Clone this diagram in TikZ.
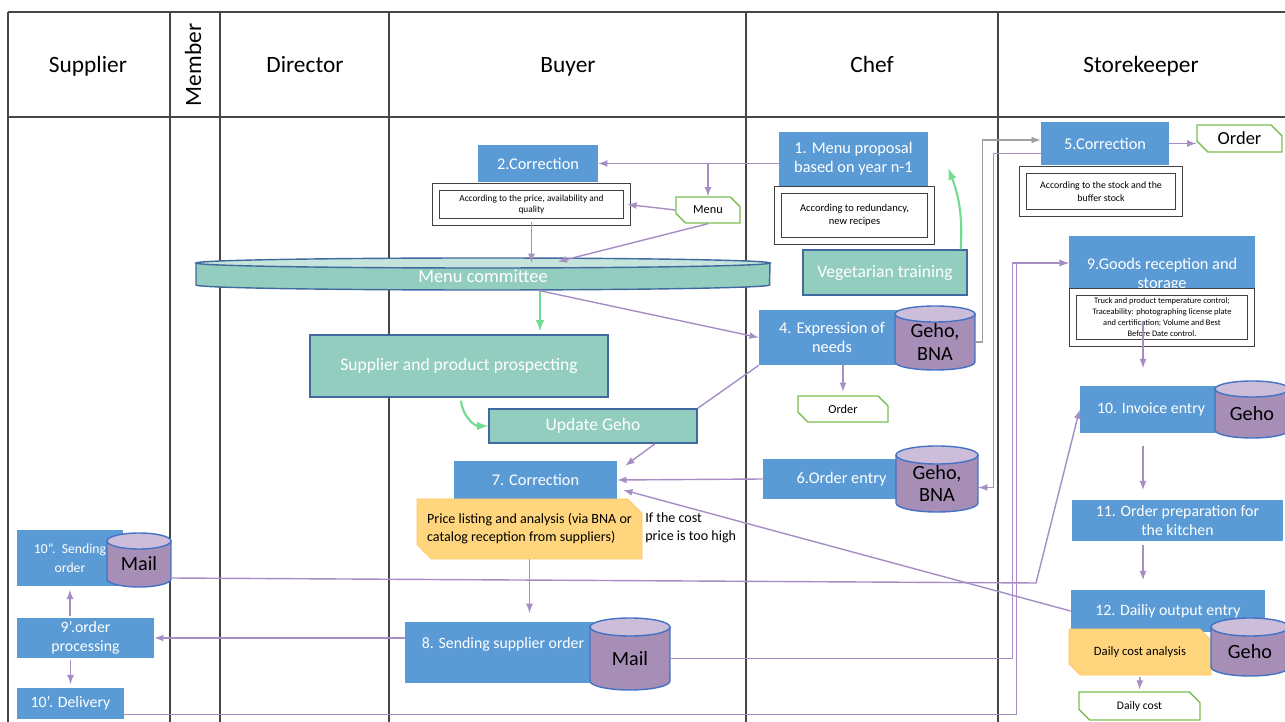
\documentclass[tikz,border=0pt]{standalone}
\usepackage{fontspec}
\setmainfont{Carlito}
\usetikzlibrary{calc,shapes.misc}
\definecolor{procblue}{RGB}{91,155,213}
\definecolor{ideateal}{RGB}{147,205,191}
\definecolor{idealight}{RGB}{196,228,220}
\definecolor{tealedge}{RGB}{65,105,160}
\definecolor{dbpurple}{RGB}{166,142,182}
\definecolor{dblight}{RGB}{204,190,218}
\definecolor{dbedge}{RGB}{68,114,196}
\definecolor{flowpurple}{RGB}{166,142,196}
\definecolor{flowgreen}{RGB}{112,222,142}
\definecolor{docgreen}{RGB}{122,190,80}
\definecolor{memoyellow}{RGB}{255,214,125}
\definecolor{laneline}{RGB}{70,70,70}
\newcommand{\boxat}[7]{
	\node[#1, minimum width={(#5-#3)*0.02cm}, minimum height={(#6-#4)*0.02cm}]
		(#2) at ({(#3+#5)/2},{(#4+#6)/2}) {#7};
}
\newcommand{\storeat}[8]{
	\path[#1 body] (#3,{#4+#7}) -- (#3,{#6-#7})
		arc[start angle=180, end angle=360, x radius={(#5-#3)*0.01cm}, y radius={#7*0.02cm}]
		-- (#5,{#4+#7}) -- cycle;
	\path[#1 top] ({(#3+#5)/2},{#4+#7}) ellipse [x radius={(#5-#3)*0.01cm}, y radius={#7*0.02cm}];
	\node[#1 text, minimum width={(#5-#3)*0.02cm}, minimum height={(#6-#4-#7)*0.02cm}]
		(#2) at ({(#3+#5)/2},{(#4+#6+#7)/2}) {#8};
}

\begin{document}
\begin{tikzpicture}[x=0.02cm,y=-0.02cm,
	lane/.style={draw=laneline, line width=0.8pt},
	lanehead/.style={anchor=base, font=\fontsize{13.3}{15}\selectfont},
	proc/.style={fill=procblue, text=white, inner sep=0pt, align=center, font=\fontsize{9.3}{10.8}\selectfont},
	idea/.style={fill=ideateal, draw=tealedge, line width=0.8pt, text=white, inner sep=0pt, font=\fontsize{10}{12}\selectfont},
	note/.style={draw=black!75, double=white, double distance=3.2pt, line width=0.5pt, fill=white, inner sep=0pt, align=center},
	doc/.style={chamfered rectangle, chamfered rectangle corners={north east,south west}, chamfered rectangle xsep=3pt, draw=docgreen, line width=0.8pt, fill=white, inner sep=0pt},
	memo/.style={chamfered rectangle, chamfered rectangle corners={north east,south west}, chamfered rectangle xsep=5pt, fill=memoyellow, draw=memoyellow!80!orange, line width=0.4pt, inner sep=0pt},
	db body/.style={fill=dbpurple, draw=dbedge, line width=0.8pt},
	db top/.style={fill=dblight, draw=dbedge, line width=0.8pt},
	db text/.style={inner sep=0pt, align=center, font=\fontsize{11.5}{13}\selectfont},
	disc body/.style={fill=ideateal, draw=tealedge, line width=0.8pt},
	disc top/.style={fill=idealight, draw=tealedge, line width=0.8pt},
	disc text/.style={inner sep=0pt, text=white, font=\fontsize{10.5}{12}\selectfont},
	flow/.style={draw=flowpurple, line width=0.8pt, -latex},
	flowgray/.style={draw=gray!75, line width=0.8pt, -latex},
	link/.style={draw=flowpurple, line width=0.8pt},
	greenflow/.style={draw=flowgreen, line width=1.2pt, -latex}]
	\useasboundingbox (0,0) rectangle (1285,722);
	\fill[white] (0,0) rectangle (1285,722);

	\draw[lane] (8,12) -- (1285,12);
	\draw[lane, line width=1.2pt] (8,117) -- (1285,117);
	\foreach \x in {8,170,220,389,746,998}
		\draw[lane] (\x,12) -- (\x,722);
	\node[lanehead] (hsup) at (88,73) {Supplier};
	\node[lanehead, anchor=center, rotate=90] (hmem) at (193,65) {Member};
	\node[lanehead] (hdir) at (305,73) {Director};
	\node[lanehead] (hbuy) at (568,73) {Buyer};
	\node[lanehead] (hchef) at (872,73) {Chef};
	\node[lanehead] (hstore) at (1141,73) {Storekeeper};

	\boxat{proc}{c2}{478}{145}{598}{182}{2.Correction}
	\boxat{proc}{m1}{779}{132}{928}{186}{1. Menu proposal\\based on year n-1}
	\boxat{proc}{c5}{1041}{122}{1169}{165}{5.Correction}
	\boxat{proc}{g9}{1069}{236}{1255}{314}{9.Goods reception and\\storage}
	\boxat{proc}{e4}{759}{310}{905}{365}{4. Expression of\\needs}
	\boxat{proc}{o6}{763}{459}{920}{499}{6.Order entry}
	\boxat{proc}{c7}{454}{461}{617}{499}{7. Correction}
	\boxat{proc, font=\fontsize{9}{10.8}\selectfont}{s8}{405}{622}{601}{683}{8. Sending supplier order\\~}
	\boxat{proc, font=\fontsize{9}{10.8}\selectfont}{i10}{1080}{386}{1222}{433}{10. Invoice entry}
	\boxat{proc, font=\fontsize{9}{10.8}\selectfont}{p11}{1072}{500}{1283}{541}{11. Order preparation for\\the kitchen}
	\boxat{proc, font=\fontsize{9}{10.8}\selectfont}{d12}{1071}{590}{1265}{632}{12. Dailiy output entry}
	\boxat{proc, font=\fontsize{7.8}{10.8}\selectfont}{so10}{17}{530}{123}{586}{10”.~~Sending\\order}
	\boxat{proc, font=\fontsize{9}{10.8}\selectfont}{op9}{17}{618}{154}{658}{9’.order\\processing}
	\boxat{proc, font=\fontsize{9}{10.8}\selectfont}{dl10}{17}{688}{124}{719}{10’. Delivery}

	\boxat{idea}{veg}{803}{250}{967}{295}{Vegetarian training}
	\boxat{idea}{pros}{310}{335}{608}{397}{Supplier and product prospecting}
	\boxat{idea}{upd}{489}{409}{697}{443}{Update Geho}

	\boxat{note, font=\fontsize{5.3}{6.5}\selectfont}{nA}{436}{187}{627}{222}{According to the price, availability and\\quality}
	\boxat{note, font=\fontsize{6}{7.5}\selectfont}{nB}{778}{190}{931}{241}{According to redundancy,\\new recipes}
	\boxat{note, font=\fontsize{5.6}{7}\selectfont}{nC}{1023}{170}{1179}{213}{According to the stock and the\\buffer stock}
	\boxat{note, font=\fontsize{4.8}{6.3}\selectfont}{nD}{1073}{292}{1251}{343}{Truck and product temperature control;\\Traceability: photographing license plate\\and certification; Volume and Best\\Before Date control.}

	\boxat{doc, font=\fontsize{7}{8}\selectfont}{menu}{676}{197}{740}{223}{Menu}
	\boxat{doc, font=\fontsize{7}{8}\selectfont}{ord4}{798}{396}{888}{422}{Order}
	\boxat{doc, font=\fontsize{10.5}{12}\selectfont}{ord5}{1197}{125}{1282}{152}{Order}
	\boxat{doc, font=\fontsize{6.6}{8}\selectfont}{dcost}{1079}{692}{1200}{720}{Daily cost}

	\boxat{memo, font=\fontsize{8}{10.2}\selectfont, align=left}{y7}{417}{499}{642}{559}{Price listing and analysis (via BNA or\\catalog reception from suppliers)}
	\boxat{memo, font=\fontsize{7.2}{9}\selectfont}{y12}{1069}{629}{1211}{675}{Daily cost analysis}
	\node[font=\fontsize{8}{10.2}\selectfont, align=left, anchor=north west, inner sep=0pt] (hint) at (645,512) {If the cost\\price is too high};

	\storeat{db}{e4db}{895}{306}{975}{370}{8}{Geho,\\BNA}
	\storeat{db}{o6db}{896}{446}{978}{512}{9}{Geho,\\BNA}
	\storeat{db}{s8db}{590}{618}{670}{690}{9}{Mail}
	\storeat{db}{i10db}{1215}{381}{1289}{438}{8}{Geho}
	\storeat{db}{d12db}{1211}{618}{1289}{676}{9}{Geho}
	\storeat{db}{so10db}{107}{533}{171}{587}{8}{Mail}
	\storeat{disc}{committee}{196}{258}{770}{290}{5}{Menu committee}

	\coordinate (mailbend) at (1036,583);
	\coordinate (skcol) at (1143,0);
	\draw[flow] (m1.west |- c2.east) -- (c2.east);
	\draw[flow] (menu.north |- c2.east) -- (menu.north);
	\draw[flow] (menu.west) -- (nA.east);
	\draw[flow] (nA.south) -- (nA.south |- committee.north);
	\draw[flow] (menu.south) -- ($(committee.north)+(75,-1)$);
	\draw[greenflow] ($(committee.south)+(57,0)$) -- ($(pros.north)+(81,-3)$);
	\draw[flow] ($(committee.south)+(55,0)$) -- (e4.west);
	\draw[greenflow] ($(pros.south)+(2,3)$) to[out=-85,in=180] (upd.west);
	\draw[link] (e4.south west) -- (upd.north east);
	\draw[flow] ($(upd.south)+(62,0)$) -- ($(c7.north east)+(8,5)$);
	\draw[flow] (o6.west) -- (c7.east);
	\draw[flow] (d12.west) -- ($(c7.east)+(6,10)$);
	\draw[flow, shorten >=5pt] (y7.south) -- (y7.south |- s8.north);
	\draw[flow] (s8db.east) -| ($(g9.west)+(-56,-12)$) -- ($(g9.west)+(0,-12)$);
	\draw[flow] ($(dl10.east)+(0,11)$) -| ($(g9.west)+(-52,-12)$) -- ($(g9.west)+(0,-12)$);
	\draw[flow] ($(so10db.east)+(0,14)$) -- (mailbend) -- (i10.west);
	\draw[flow] (s8.west |- op9.east) -- (op9.east);
	\draw[flow, shorten <=1pt, shorten >=2pt] (op9.north -| so10.south) -- (so10.south);
	\draw[flow, shorten <=1pt, shorten >=2pt] (op9.south -| dl10.north) -- (dl10.north);
	\draw[flow] ($(c5.west)+(0,10)$) -| ($(o6db.east)+(15,4)$) -- ($(o6db.east)+(0,4)$);
	\draw[flowgray] (e4db.east) -| ($(c5.west)+(-58,-3.5)$) -- ($(c5.west)+(0,-3.5)$);
	\draw[flow] (c5.east) -- (c5.east -| ord5.west);
	\draw[flow, shorten >=10pt] ($(nD.center)+(-19,4)$) -- (i10.north -| skcol);
	\draw[flow, shorten <=7pt, shorten >=5.5pt] (i10.south -| skcol) -- (p11.north -| skcol);
	\draw[flow, shorten <=2pt, shorten >=5.5pt] (p11.south -| skcol) -- (d12.north -| skcol);
	\draw[flow, shorten <=1pt, shorten >=1pt] (y12.south) -- (dcost.north);
	\draw[flow, shorten >=2pt] (e4.south -| ord4.north) -- (ord4.north);
	\draw[greenflow] ($(veg.north east)+(-7,0)$) to[bend right=12] ($(m1.south east)+(20,-18)$);
\end{tikzpicture}
\end{document}
